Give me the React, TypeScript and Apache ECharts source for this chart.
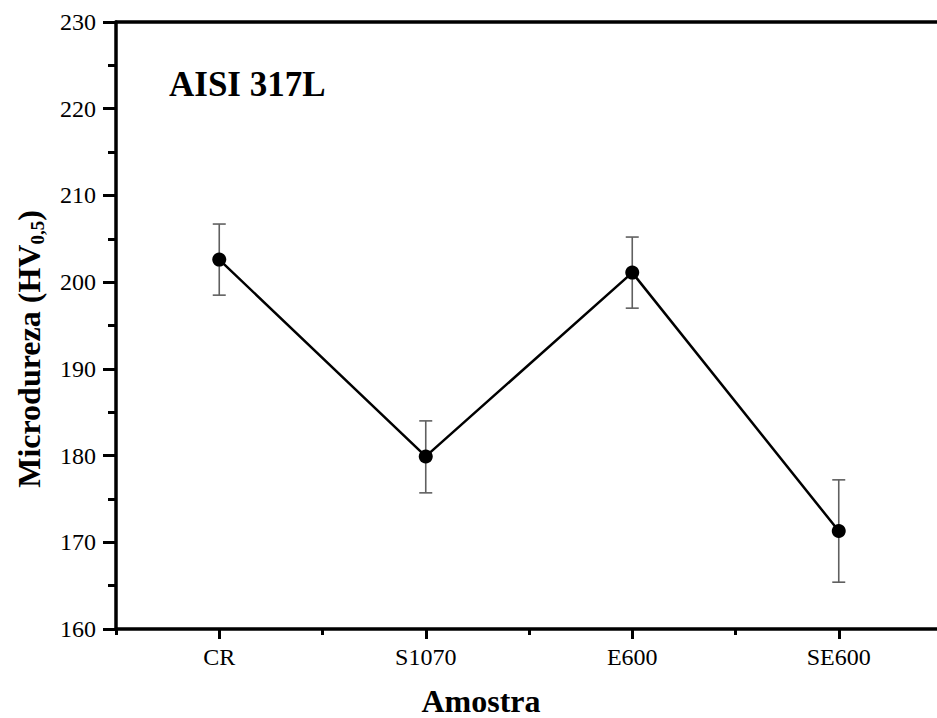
import React, { useEffect, useRef } from 'react';
import * as echarts from 'echarts';

const categories = ['CR', 'S1070', 'E600', 'SE600'];
const hardness = [202.6, 179.9, 201.1, 171.3];
const errLow = [198.5, 175.7, 197.0, 165.4];
const errHigh = [206.7, 184.0, 205.2, 177.2];
const yMin = 160;
const yMax = 230;
const yStep = 10;

const FONT = '"Liberation Serif", "Times New Roman", serif';

export default function App() {
  const ref = useRef<HTMLDivElement>(null);

  useEffect(() => {
    if (!ref.current) return;
    const chart = echarts.init(ref.current, undefined, { renderer: 'svg' });
    const axisLineStyle = { color: '#000', width: 3.5 };
    const tickStyle = { color: '#000', width: 3 };
    const errData = categories.map((_, i) => [i, errLow[i], errHigh[i]]);

    const option: any = {
      animation: false,
      backgroundColor: '#fff',
      grid: { left: 116, top: 22, width: 826, height: 607, containLabel: false, outerBoundsMode: 'none' },
      xAxis: [
        {
          type: 'category',
          data: categories,
          position: 'bottom',
          axisLine: { show: true, lineStyle: axisLineStyle },
          axisTick: { show: true, alignWithLabel: true, length: 10, lineStyle: tickStyle },
          axisLabel: { fontFamily: FONT, fontSize: 24, color: '#000', margin: 16 },
          splitLine: { show: false },
        },
        {
          type: 'category',
          data: categories,
          position: 'bottom',
          axisLine: { show: false },
          axisTick: { show: true, length: 6, lineStyle: tickStyle },
          axisLabel: { show: false },
          splitLine: { show: false },
        },
        {
          type: 'category',
          data: categories,
          position: 'top',
          axisLine: { show: true, lineStyle: axisLineStyle },
          axisTick: { show: false },
          axisLabel: { show: false },
          splitLine: { show: false },
        },
      ],
      yAxis: [
        {
          type: 'value',
          min: yMin,
          max: yMax,
          interval: yStep,
          position: 'left',
          axisLine: { show: true, lineStyle: axisLineStyle },
          axisTick: { show: true, length: 13, lineStyle: tickStyle },
          minorTick: { show: true, splitNumber: 2, length: 8, lineStyle: tickStyle },
          axisLabel: { fontFamily: FONT, fontSize: 24, color: '#000', margin: 20 },
          splitLine: { show: false },
          minorSplitLine: { show: false },
        },
      ],
      series: [
        {
          type: 'custom',
          xAxisIndex: 0,
          yAxisIndex: 0,
          z: 1,
          data: errData,
          renderItem: (params: any, api: any) => {
            const x = api.value(0);
            const lo = api.coord([x, api.value(1)]);
            const hi = api.coord([x, api.value(2)]);
            const cw = 6.5;
            const style = { stroke: '#606060', lineWidth: 1.6 };
            return {
              type: 'group',
              children: [
                { type: 'line', shape: { x1: lo[0], y1: lo[1], x2: hi[0], y2: hi[1] }, style },
                { type: 'line', shape: { x1: hi[0] - cw, y1: hi[1], x2: hi[0] + cw, y2: hi[1] }, style },
                { type: 'line', shape: { x1: lo[0] - cw, y1: lo[1], x2: lo[0] + cw, y2: lo[1] }, style },
              ],
            };
          },
        },
        {
          type: 'line',
          xAxisIndex: 0,
          yAxisIndex: 0,
          z: 3,
          data: hardness,
          symbol: 'circle',
          symbolSize: 14,
          itemStyle: { color: '#000' },
          lineStyle: { color: '#000', width: 2.5 },
        },
      ],
      graphic: [
        {
          type: 'text',
          left: 169,
          top: 67,
          style: { text: 'AISI 317L', fontFamily: FONT, fontWeight: 'bold', fontSize: 35, fill: '#000' },
        },
        {
          type: 'text',
          x: 29,
          y: 349,
          rotation: Math.PI / 2,
          style: {
            text: 'Microdureza (HV{sub|0,5})',
            fontFamily: FONT,
            fontWeight: 'bold',
            fontSize: 32,
            lineHeight: 36,
            fill: '#000',
            align: 'center',
            verticalAlign: 'middle',
            rich: {
              sub: { fontFamily: FONT, fontWeight: 'bold', fontSize: 19, lineHeight: 19, verticalAlign: 'bottom', fill: '#000' },
            },
          },
        },
        {
          type: 'text',
          x: 481,
          y: 717,
          style: {
            text: 'Amostra',
            fontFamily: FONT,
            fontWeight: 'bold',
            fontSize: 32,
            lineHeight: 32,
            fill: '#000',
            align: 'center',
            verticalAlign: 'bottom',
          },
        },
      ],
    };
    chart.setOption(option);
    return () => chart.dispose();
  }, []);

  return <div ref={ref} style={{ position: 'fixed', left: 0, top: 0, width: 937, height: 718 }} />;
}
